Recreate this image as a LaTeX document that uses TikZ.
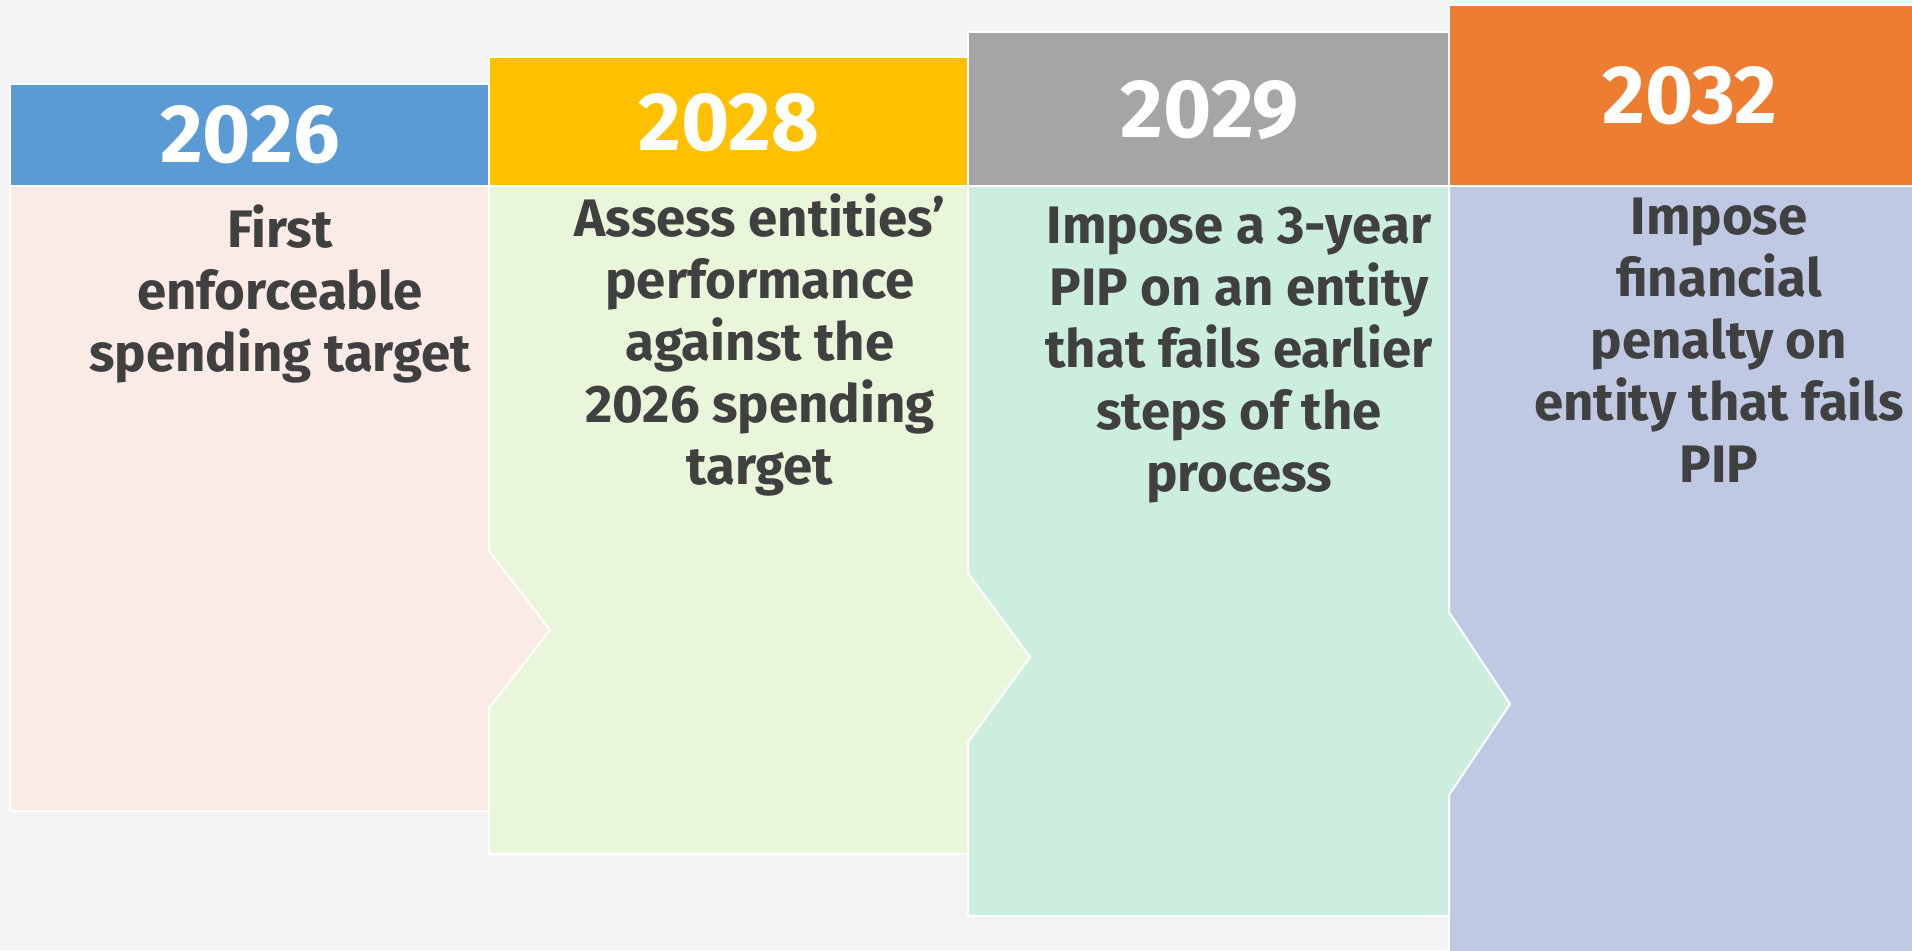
\documentclass[tikz,border=0pt]{standalone}
\usepackage{fontspec}
\setmainfont{Fira Sans}

\definecolor{bg}{HTML}{F4F4F4}
\definecolor{txt}{HTML}{404040}
\definecolor{hblue}{HTML}{5B9BD5}
\definecolor{hyellow}{HTML}{FFC000}
\definecolor{hgray}{HTML}{A5A5A5}
\definecolor{horange}{HTML}{ED7D31}
\definecolor{bpink}{HTML}{FBEBE7}
\definecolor{bgreen}{HTML}{E9F6D9}
\definecolor{bmint}{HTML}{CCEEDE}
\definecolor{blav}{HTML}{BFC9E3}

\begin{document}
\begin{tikzpicture}[x=0.01cm,y=-0.01cm,
  edge/.style={draw=white,line width=0.02cm,line join=miter},
  year/.style={text=white,font=\fontsize{23.5}{28}\selectfont\bfseries},
  note/.style={text=txt,align=center,font=\fontsize{15}{17.6}\selectfont\bfseries}]
  \fill[bg] (0,0) rectangle (1912,950);
  \useasboundingbox (0,0) rectangle (1912,950);

  % columns go right to left so each chevron lies on top of the next box
  \path[edge,fill=blav] (1449,186) -- (1940,186) -- (1940,960) -- (1449,960) -- cycle;
  \path[edge,fill=horange] (1449,5) rectangle (1940,186);

  \path[edge,fill=bmint] (968,186) -- (1449,186) -- (1449,612) -- (1510,704)
    -- (1449,795) -- (1449,916) -- (968,916) -- cycle;
  \path[edge,fill=hgray] (968,32) rectangle (1449,186);

  \path[edge,fill=bgreen] (489,186) -- (968,186) -- (968,573) -- (1030,657)
    -- (968,742) -- (968,854) -- (489,854) -- cycle;
  \path[edge,fill=hyellow] (489,57) rectangle (968,186);

  \path[edge,fill=bpink] (10,186) -- (489,186) -- (489,551) -- (550,630)
    -- (489,708) -- (489,811) -- (10,811) -- cycle;
  \path[edge,fill=hblue] (10,84) rectangle (489,186);

  % years
  \node[year] (y2026) at (250,135) {2026};
  \node[year] (y2028) at (729,123) {2028};
  \node[year] (y2029) at (1210,110) {2029};
  \node[year] (y2032) at (1690,96) {2032};

  % what happens each year
  \node[note] (t2026) at (280,294) {First\\enforceable\\spending target};
  \node[note] (t2028) at (760,345) {Assess entities’\\performance\\against the\\2026 spending\\target};
  \node[note] (t2029) at (1239,355) {Impose a 3-year\\PIP on an entity\\that fails earlier\\steps of the\\process};
  \node[note] (t2032) at (1719,340) {Impose\\financial\\penalty on\\entity that fails\\PIP};
\end{tikzpicture}
\end{document}
